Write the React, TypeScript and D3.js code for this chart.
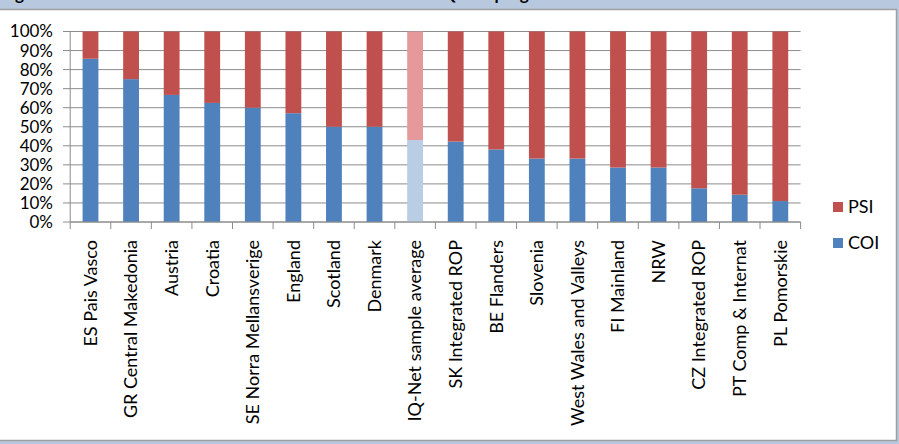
import React from 'react';
import * as d3 from 'd3';

const categories = [
  'ES Pais Vasco',
  'GR Central Makedonia',
  'Austria',
  'Croatia',
  'SE Norra Mellansverige',
  'England',
  'Scotland',
  'Denmark',
  'IQ-Net sample average',
  'SK Integrated ROP',
  'BE Flanders',
  'Slovenia',
  'West Wales and Valleys',
  'FI Mainland',
  'NRW',
  'CZ Integrated ROP',
  'PT Comp & Internat',
  'PL Pomorskie',
];

// share of COI per programme (%); PSI is the remainder
const coi = [85.7, 75, 66.7, 62.5, 60, 57.1, 50, 50, 43, 42.2, 38.1, 33.3, 33.3, 28.6, 28.6, 17.7, 14.3, 11];
const psi = coi.map((v) => 100 - v);

const yTicks = [0, 10, 20, 30, 40, 50, 60, 70, 80, 90, 100];
const averageLabel = 'IQ-Net sample average';

const W = 899;
const H = 444;
const FONT = 'Lato, Carlito, Calibri, sans-serif';
const FS = 18;

const COI_COLOR = '#4f81bd';
const PSI_COLOR = '#c0504d';
const COI_LIGHT = '#b9cde5';
const PSI_LIGHT = '#e6999b';

export default function App() {
  const x = d3.scaleBand<string>().domain(categories).range([70.2, 800.6]);
  const y = d3.scaleLinear().domain([0, 100]).range([222, 31.5]);
  const bw = x.bandwidth() * 0.39;

  const stack = d3.stack<number>()
    .keys(['COI', 'PSI'])
    .value((i, key) => (key === 'COI' ? coi[i] : psi[i]))(d3.range(categories.length));

  const gridColor = '#8c8c8c';

  return (
    <svg width={W} height={H} style={{ position: 'absolute', left: 0, top: 0, background: '#fff' }} fontFamily={FONT}>
      {/* window edge */}
      <rect x={0} y={0} width={W} height={H} fill="#b8c9df" />
      <rect x={-2} y={9.5} width={898.5} height={431} fill="#fff" stroke="#a0a0a0" strokeWidth={1.5} />

      {/* title, mostly scrolled off */}
      <text y={0} fontWeight="bold" fontSize={17} fill="#000">
        <tspan x={1}>Figure 6: Share of COI and PSI in allocations</tspan>
        <tspan x={437}>IQ-Net programmes</tspan>
      </text>

      {/* gridlines and y ticks */}
      {yTicks.map((t) => (
        <g key={t}>
          <line x1={63} x2={800.6} y1={y(t)} y2={y(t)} stroke={gridColor} strokeWidth={1} />
          <text x={53} y={y(t)} dy="0.35em" textAnchor="end" fontSize={17} fill="#000">
            {t}%
          </text>
        </g>
      ))}

      {/* bars */}
      {stack.map((layer) => (
        <g key={layer.key}>
          {layer.map((d, i) => {
            const cat = categories[i];
            const avg = cat === averageLabel;
            const fill = layer.key === 'COI' ? (avg ? COI_LIGHT : COI_COLOR) : (avg ? PSI_LIGHT : PSI_COLOR);
            const cx = (x(cat) ?? 0) + x.bandwidth() / 2;
            return (
              <rect
                key={cat}
                x={cx - bw / 2}
                width={bw}
                y={y(d[1])}
                height={y(d[0]) - y(d[1])}
                fill={fill}
              />
            );
          })}
        </g>
      ))}

      {/* axes */}
      <line x1={70.2} x2={70.2} y1={31.5} y2={222} stroke={gridColor} />
      <line x1={70.2} x2={800.6} y1={222} y2={222} stroke={gridColor} />
      {categories.concat(['']).map((c, i) => {
        const xx = 70.2 + i * x.step();
        return <line key={i} x1={xx} x2={xx} y1={222} y2={229} stroke={gridColor} />;
      })}

      {/* category labels */}
      {categories.map((c) => {
        const cx = (x(c) ?? 0) + x.bandwidth() / 2;
        return (
          <text
            key={c}
            transform={`translate(${cx},240) rotate(-90)`}
            dy="0.35em"
            textAnchor="end"
            fontSize={FS}
            fill="#000"
          >
            {c}
          </text>
        );
      })}

      {/* legend */}
      <rect x={833} y={202} width={10} height={10} fill={PSI_COLOR} />
      <text x={848} y={207} dy="0.35em" fontSize={FS} fill="#000">PSI</text>
      <rect x={833} y={238} width={10} height={10} fill={COI_COLOR} />
      <text x={848} y={243} dy="0.35em" fontSize={FS} fill="#000">COI</text>
    </svg>
  );
}
